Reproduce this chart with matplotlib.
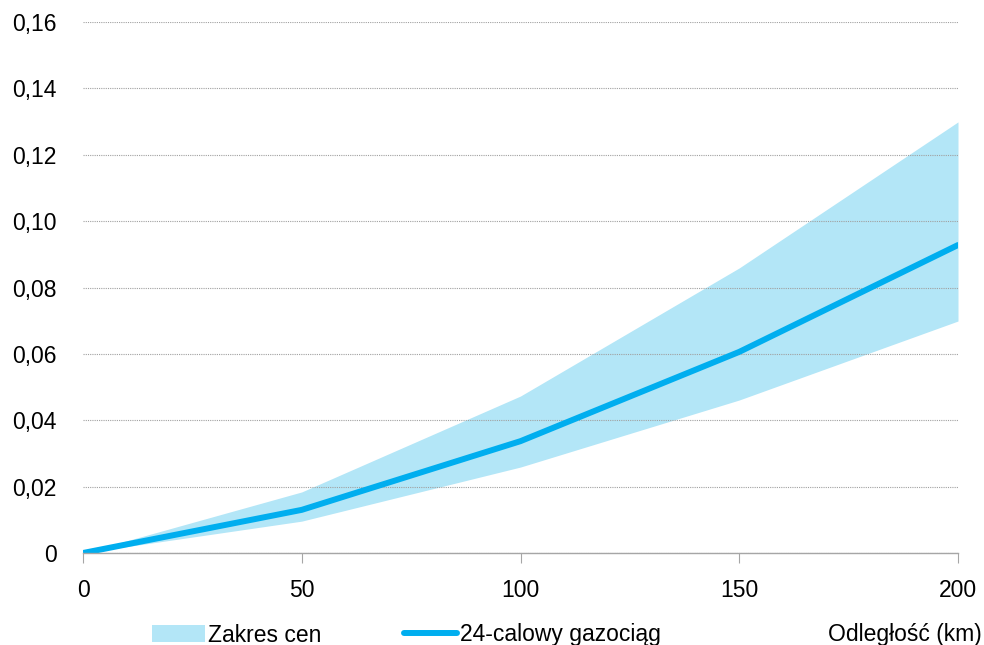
import numpy as np
import matplotlib.pyplot as plt
from matplotlib.patches import Patch
from matplotlib.lines import Line2D

plt.rcParams['font.family'] = ['Liberation Sans', 'DejaVu Sans']

# distance (km) and cost values
km = [0, 50, 100, 150, 200]
pipeline_24 = [0.0, 0.0130, 0.0337, 0.0606, 0.0928]
range_low = [0.0, 0.0096, 0.0259, 0.0461, 0.0699]
range_high = [0.0, 0.0184, 0.0473, 0.0859, 0.1299]
yticks = [0, 0.02, 0.04, 0.06, 0.08, 0.10, 0.12, 0.14, 0.16]
ytick_labels = ['0', '0,02', '0,04', '0,06', '0,08', '0,10', '0,12', '0,14', '0,16']

line_col = '#00AEEF'
fill_col = '#B3E6F7'

fig = plt.figure(figsize=(9.84, 6.45), dpi=100)
ax = fig.add_axes([83/984, 92/645, 875/984, 531/645])

ax.fill_between(km, range_low, range_high, color=fill_col, lw=0, zorder=1)
ax.plot(km, pipeline_24, color=line_col, lw=4.3, solid_capstyle='round', zorder=3)

ax.set_xlim(0, 200)
ax.set_ylim(0, 0.16)
ax.set_xticks(km)
ax.set_yticks(yticks)
ax.set_yticklabels(ytick_labels)
ax.yaxis.grid(True, linestyle=(0, (1, 1)), color='#A0A0A0', lw=0.8, zorder=2)
ax.set_axisbelow(False)
for s in ['top', 'right', 'left']:
    ax.spines[s].set_visible(False)
ax.spines['bottom'].set_color('#A6A6A6')
ax.spines['bottom'].set_linewidth(1.0)
ax.spines['bottom'].set_zorder(4)
ax.tick_params(axis='y', length=0, pad=19, labelsize=16.5)
ax.tick_params(axis='x', length=7, color='#A6A6A6', pad=12, labelsize=16.5)

handles = [Patch(facecolor=fill_col, edgecolor='none', label='Zakres cen'),
           Line2D([0], [0], color=line_col, lw=4.3, solid_capstyle='round',
                  label='24-calowy gazociąg')]
fig.legend(handles=handles, loc='center left', bbox_to_anchor=(143/984, 10/645),
           ncol=2, frameon=False, fontsize=16.5, handlelength=2.3,
           handletextpad=0.15, columnspacing=3.6, borderaxespad=0)
fig.text(828/984, 10/645, 'Odległość (km)', fontsize=16.5, va='center', ha='left')

fig.savefig('out.png', dpi=100)
